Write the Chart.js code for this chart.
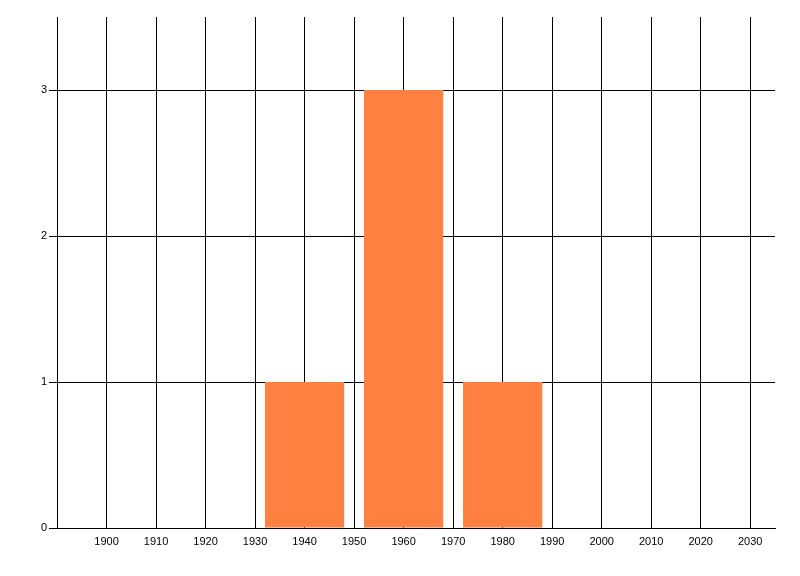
<!DOCTYPE html>
<html>
<head>
<meta charset="utf-8">
<script src="https://cdn.jsdelivr.net/npm/chart.js@4/dist/chart.umd.min.js"></script>
<style>
  html, body { margin: 0; padding: 0; background: #fff; }
  #wrap { width: 800px; height: 576px; }
</style>
</head>
<body>
<div id="wrap"><canvas id="chart" width="800" height="576"></canvas></div>
<script>
// decades and counts
const decades = [1940, 1960, 1980];
const counts = [1, 3, 1];
const xTicks = [1900, 1910, 1920, 1930, 1940, 1950, 1960, 1970, 1980, 1990, 2000, 2010, 2020, 2030];
const yTicks = [0, 1, 2, 3];
const xMin = 1890, xMax = 2035;
const yMin = 0, yMax = 3.5;

const points = decades.map((d, i) => ({ x: d, y: counts[i] }));

new Chart(document.getElementById("chart"), {
  type: "bar",
  data: {
    datasets: [{
      data: points,
      backgroundColor: "rgb(255,128,64)",
      borderWidth: 0,
      categoryPercentage: 1.0,
      barPercentage: 1.6
    }]
  },
  options: {
    responsive: false,
    animation: false,
    layout: { padding: { top: 17, right: 25, left: 0, bottom: 0 } },
    plugins: { legend: { display: false }, tooltip: { enabled: false } },
    scales: {
      x: {
        type: "linear",
        min: xMin,
        max: xMax,
        offset: false,
        afterBuildTicks: (s) => { s.ticks = xTicks.map(v => ({ value: v })); },
        afterFit: (s) => { s.height = 48; },
        grid: { color: "#000", lineWidth: 1, drawTicks: false, offset: false },
        border: { color: "#000", width: 1 },
        ticks: {
          padding: 7,
          color: "#000",
          maxRotation: 0,
          autoSkip: false,
          font: { family: "Liberation Sans", size: 11 },
          callback: (v) => String(v)
        }
      },
      y: {
        min: yMin,
        max: yMax,
        afterBuildTicks: (s) => { s.ticks = yTicks.map(v => ({ value: v })); },
        afterFit: (s) => { s.width = 57; },
        grid: { color: "#000", lineWidth: 1, drawTicks: true, tickLength: 8 },
        border: { color: "#000", width: 1 },
        ticks: {
          padding: 2,
          color: "#000",
          font: { family: "Liberation Sans", size: 11 }
        }
      }
    }
  }
});
</script>
</body>
</html>
